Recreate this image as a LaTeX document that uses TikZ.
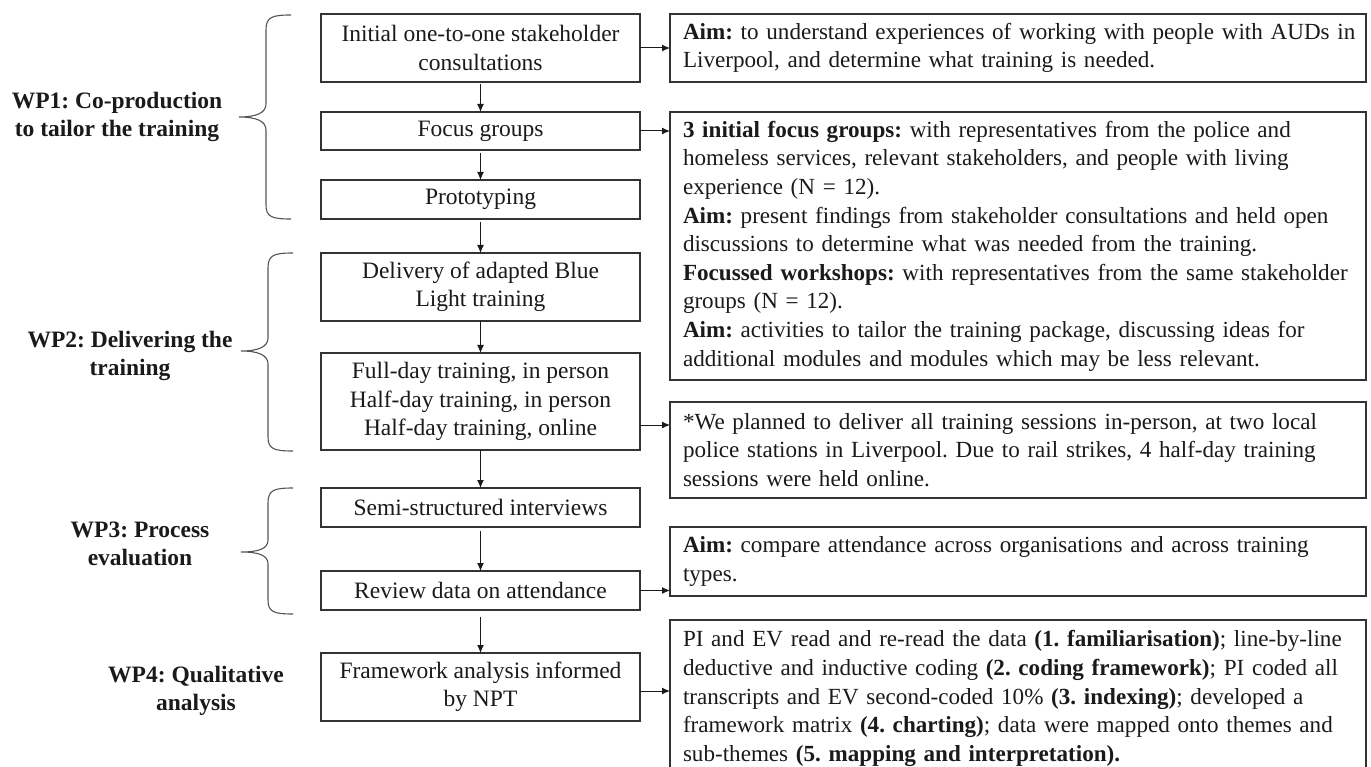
\documentclass[tikz,border=0pt]{standalone}
\usepackage{fontspec}
\setmainfont{Liberation Serif}
\usetikzlibrary{arrows.meta,calc}
\definecolor{boxline}{HTML}{333333}
\definecolor{txt}{HTML}{1A1A1A}
\definecolor{bracecol}{HTML}{555555}
\newcommand{\rline}[1]{\mbox{#1}}
\frenchspacing
\begin{document}
\begin{tikzpicture}[x=1pt,y=-1pt,
  every node/.style={font=\fontsize{23.5}{28.5}\selectfont, text=txt},
  lbox/.style={draw=boxline, line width=1.4pt, fill=white, anchor=north west,
    minimum width=319pt, inner sep=0pt, outer sep=0pt, align=center},
  rbox/.style={draw=boxline, line width=1.4pt, fill=white, anchor=north west,
    font=\fontsize{23.1}{28.6}\selectfont,
    text width=670pt, inner xsep=13pt, inner ysep=0pt, outer sep=0pt, align=left,
    execute at begin node={\frenchspacing\hbadness=10000\hfuzz=100pt}},
  wplabel/.style={font=\fontsize{23.5}{28.5}\selectfont\bfseries, align=center},
  arr/.style={draw=txt, line width=1pt, -{Latex[length=8pt,width=7pt]}},
  bracestyle/.style={draw=bracecol, line width=1.1pt}]
\useasboundingbox (0,0) rectangle (1371,767);

% left boxes
\node[lbox, minimum height=68pt] (L1) at (321,14) {Initial one-to-one stakeholder\\consultations};
\node[lbox, minimum height=38pt] (L2) at (321,112) {Focus groups};
\node[lbox, minimum height=39pt] (L3) at (321,180) {Prototyping};
\node[lbox, minimum height=68pt] (L4) at (321,253) {Delivery of adapted Blue\\Light training};
\node[lbox, minimum height=97pt] (L5) at (321,353) {Full-day training, in person\\Half-day training, in person\\Half-day training, online};
\node[lbox, minimum height=39pt] (L6) at (321,488) {Semi-structured interviews};
\node[lbox, minimum height=39pt] (L7) at (321,571) {Review data on attendance};
\node[lbox, minimum height=68pt] (L8) at (321,653) {Framework analysis informed\\by NPT};

% right boxes
\node[rbox, minimum height=68pt] (R1) at (670,14) {\rline{\textbf{Aim:} to understand experiences of working with people with AUDs in}\\\rline{Liverpool, and determine what training is needed.}};
\node[rbox, minimum height=268pt] (R2) at (670,112) {\rline{\textbf{3 initial focus groups:} with representatives from the police and}\\\rline{homeless services, relevant stakeholders, and people with living}\\\rline{experience (N = 12).}\\\rline{\textbf{Aim:} present findings from stakeholder consultations and held open}\\\rline{discussions to determine what was needed from the training.}\\\rline{\textbf{Focussed workshops:} with representatives from the same stakeholder}\\\rline{groups (N = 12).}\\\rline{\textbf{Aim:} activities to tailor the training package, discussing ideas for}\\\rline{additional modules and modules which may be less relevant.}};
\node[rbox, minimum height=96pt] (R3) at (670,402) {\rline{*We planned to deliver all training sessions in-person, at two local}\\\rline{police stations in Liverpool. Due to rail strikes, 4 half-day training}\\\rline{sessions were held online.}};
\node[rbox, minimum height=69pt] (R4) at (670,527) {\rline{\textbf{Aim:} compare attendance across organisations and across training}\\\rline{types.}};
\node[rbox, minimum height=157pt] (R5) at (670,620) {\rline{PI and EV read and re-read the data \textbf{(1. familiarisation)}; line-by-line}\\\rline{deductive and inductive coding \textbf{(2. coding framework)}; PI coded all}\\\rline{transcripts and EV second-coded 10\% \textbf{(3. indexing)}; developed a}\\\rline{framework matrix \textbf{(4. charting)}; data were mapped onto themes and}\\\rline{sub-themes \textbf{(5. mapping and interpretation).}}};

% WP labels
\node[wplabel] (WP1) at (117,117) {WP1: Co-production\\to tailor the training};
\node[wplabel] (WP2) at (130,356) {WP2: Delivering the\\training};
\node[wplabel] (WP3) at (140,544) {WP3: Process\\evaluation};
\node[wplabel] (WP4) at (196,691) {WP4: Qualitative\\analysis};

% vertical arrows
\draw[arr, shorten <=2pt] (L1) -- (L2);
\draw[arr, shorten <=3pt] (L2) -- (L3);
\draw[arr, shorten <=3pt] (L3) -- (L4);
\draw[arr] (L4) -- (L5);
\draw[arr] (L5) -- (L6);
\draw[arr, shorten <=4pt] (L6) -- (L7);
\draw[arr, shorten <=7pt] (L7) -- (L8);

% horizontal arrows
\draw[arr] (L1.east) -- (R1.west);
\draw[arr] (L2.east) -- ($(R2.north west)+(0,19)$);
\draw[arr] ($(L5.east)+(0,23.5)$) -- ($(R3.west)+(0,-25)$);
\draw[arr] (L7.east) -- ($(R4.west)+(0,29)$);
\draw[arr] ($(L8.east)+(0,4)$) -- ($(R5.north west)+(0,71)$);

% braces
\draw[bracestyle] (291,15) .. controls (272,15) and (266,17) .. (266,30) -- (266,104)
  .. controls (266,113) and (256,117) .. (239,117)
  .. controls (256,117) and (266,121) .. (266,130) -- (266,205)
  .. controls (266,217) and (272,219) .. (291,219);
\draw[bracestyle] (293,253) .. controls (274,253) and (268,255) .. (268,268) -- (268,338)
  .. controls (268,347) and (258,351) .. (241,351)
  .. controls (258,351) and (268,355) .. (268,364) -- (268,437)
  .. controls (268,449) and (274,451) .. (293,451);
\draw[bracestyle] (293,488) .. controls (274,488) and (268,490) .. (268,503) -- (268,540)
  .. controls (268,549) and (258,552) .. (241,552)
  .. controls (258,552) and (268,555) .. (268,564) -- (268,600)
  .. controls (268,612) and (274,614) .. (293,614);
\end{tikzpicture}
\end{document}
